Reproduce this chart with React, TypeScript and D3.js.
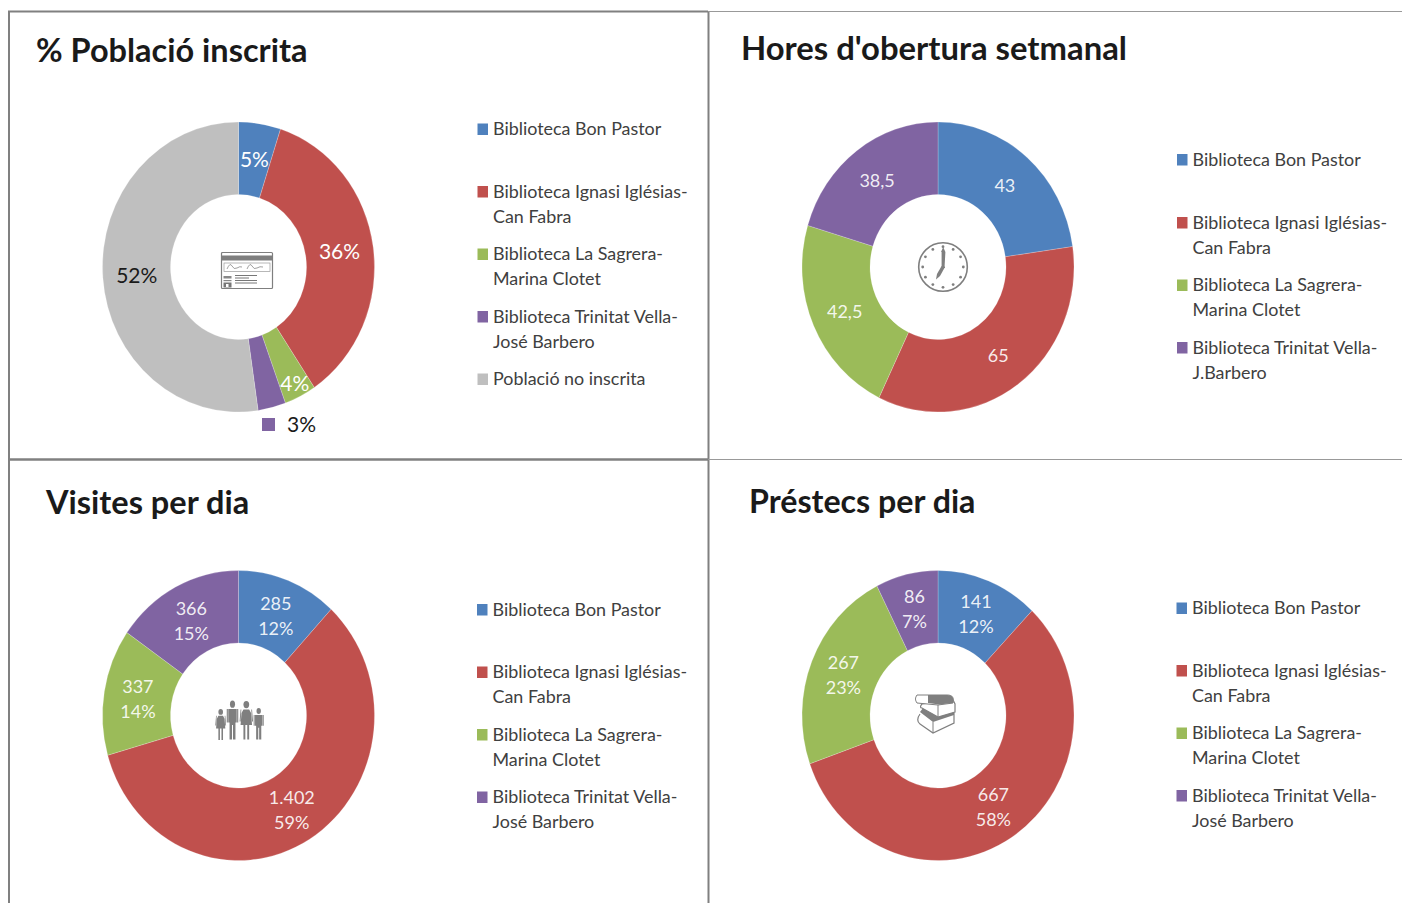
import React from "react";
import * as d3 from "d3";

const LBL_FONT = "Lato, Carlito, 'Noto Sans', sans-serif";
const BLUE = "#4f81bd", RED = "#c0504d", GREEN = "#9bbb59", PURPLE = "#8064a2", GREY = "#bfbfbf";

const titles = ["% Població inscrita", "Hores d'obertura setmanal", "Visites per dia", "Préstecs per dia"];
const inscritaValues = [5, 35.6, 3.8, 3.3, 52.3];
const horesValues = [43, 65, 42.5, 38.5];
const visitesValues = [285, 1402, 337, 366];
const prestecsValues = [141, 667, 267, 86];
const inscritaLabels = [["5%"], ["36%"], ["4%"], [], ["52%"]];
const horesLabels = [["43"], ["65"], ["42,5"], ["38,5"]];
const visitesLabels = [["285", "12%"], ["1.402", "59%"], ["337", "14%"], ["366", "15%"]];
const prestecsLabels = [["141", "12%"], ["667", "58%"], ["267", "23%"], ["86", "7%"]];
const legend1 = [["Biblioteca Bon Pastor"], ["Biblioteca Ignasi Iglésias-", "Can Fabra"], ["Biblioteca La Sagrera-", "Marina Clotet"], ["Biblioteca Trinitat Vella-", "José Barbero"], ["Població no inscrita"]];
const legend2 = [["Biblioteca Bon Pastor"], ["Biblioteca Ignasi Iglésias-", "Can Fabra"], ["Biblioteca La Sagrera-", "Marina Clotet"], ["Biblioteca Trinitat Vella-", "J.Barbero"]];
const legend3 = [["Biblioteca Bon Pastor"], ["Biblioteca Ignasi Iglésias-", "Can Fabra"], ["Biblioteca La Sagrera-", "Marina Clotet"], ["Biblioteca Trinitat Vella-", "José Barbero"]];
const colours5 = [BLUE, RED, GREEN, PURPLE, GREY];

const RX = 136, RY = 145, INNER = 68;
const labelDark = [false, false, false, false, true];

function Donut({ cx, cy, values, labels, shift = [], dyAll = 0 }: { cx: number; cy: number; values: number[]; labels: string[][]; shift?: number[][]; dyAll?: number }) {
  const pie = d3.pie<number>().sort(null)(values);
  const arc = d3.arc<d3.PieArcDatum<number>>().innerRadius(INNER).outerRadius(RX);
  const sy = RY / RX;
  return (
    <g transform={`translate(${cx},${cy})`}>
      <g transform={`scale(1,${sy})`}>
        {pie.map((p, i) => (
          <path key={i} d={arc(p) || ""} fill={colours5[i]} stroke="#fff" strokeOpacity={0.35} strokeWidth={0.6} />
        ))}
      </g>
      {pie.map((p, i) => {
        const [x, y] = arc.centroid(p);
        const ls = labels[i];
        const [ox, oy] = shift[i] || [0, 0];
        return ls.map((t, k) => (
          <text key={i + "-" + k} x={x + ox} y={y * sy + oy + dyAll + (k - (ls.length - 1) / 2) * 25} dy="0.35em" textAnchor="middle"
            fontFamily={LBL_FONT} fontSize={ls.length === 1 && ls[0].endsWith("%") ? 21 : 18}
            fill={labelDark[i] ? "#1a1a1a" : "#fff"} fillOpacity={labelDark[i] || ls[0].endsWith("%") ? 1 : 0.9}>{t}</text>
        ));
      })}
    </g>
  );
}

function Legend({ x, ys, items }: { x: number; ys: number[]; items: string[][] }) {
  return (
    <g fontFamily={LBL_FONT} fontSize={17.9} fill="#404040">
      {items.map((lines, i) => (
        <g key={i}>
          <rect x={x} y={ys[i] - 5.5} width={10.5} height={11.5} fill={colours5[i]} />
          {lines.map((t, k) => (
            <text key={k} x={x + 15.5} y={ys[i] + k * 25} dy="0.35em">{t}</text>
          ))}
        </g>
      ))}
    </g>
  );
}

const ICON = "#7f7f7f";
function CardIcon() {
  return (
    <g transform="translate(221,252)">
      <rect x={0.5} y={0.5} width={51} height={36} rx={1} fill="#fff" stroke={ICON} strokeWidth={1.2} />
      <rect x={0.5} y={3.5} width={51} height={5} fill={ICON} />
      <rect x={3} y={11} width={46} height={8.5} fill="#fff" stroke="#999" strokeWidth={0.7} />
      <path d="M6,17 q3,-7 5,-3 t5,2 t5,-1 M26,17 q3,-7 5,-3 t5,2 t6,-1" fill="none" stroke="#777" strokeWidth={0.7} />
      <path d="M14,23.5H36M14,26H28M14,28.5H36M14,31H36" stroke="#777" strokeWidth={1} />
      <rect x={2.5} y={24} width={8} height={2.5} fill="#888" />
      <rect x={2.5} y={28} width={8} height={1.2} fill="#888" />
      <rect x={2.5} y={30.5} width={8} height={5} fill="#777" />
      <rect x={5} y={32} width={2.5} height={3} fill="#fff" />
    </g>
  );
}
function ClockIcon() {
  const ticks = d3.range(12).map((i) => (i * Math.PI) / 6);
  return (
    <g transform="translate(943,267)">
      <circle r={24.3} fill="#fff" stroke={ICON} strokeWidth={1.6} />
      {ticks.map((a, i) => (
        <circle key={i} cx={20.3 * Math.sin(a)} cy={-20.3 * Math.cos(a)} r={1.4} fill={ICON} />
      ))}
      <path d="M0.2,-20 L2.4,-15 L1.6,-1 L2,1 L-1.4,1 L-1.4,-15 L-2,-15 Z" fill={ICON} />
      <path d="M2,0 L-3,9 L-7,12.5 L-6,7 L-1.4,-1 Z" fill={ICON} />
    </g>
  );
}
function Person({ x, y, h, w, skirt }: { x: number; y: number; h: number; w: number; skirt?: boolean }) {
  const s = h / 32, sx = w / 13.6;
  return (
    <g transform={`translate(${x},${y}) scale(${sx},${s})`} fill={ICON}>
      <circle cx={0} cy={3} r={3} />
      {skirt ? (
        <path d="M-3,7 H3 L5,10 L6,20 L3,20 V32 H1 V20 H-1 V32 H-3 V20 H-6 L-5,10 Z M5.2,7 L6,7 L7,17 L6,17 Z M-5.2,7 L-6,7 L-7,17 L-6,17 Z" />
      ) : (
        <path d="M-5,7 H5 V18 H3.5 V32 H0.6 V20 H-0.6 V32 H-3.5 V18 H-5 Z M5.5,7 L6.8,7 L6.8,18 L5.5,18 Z M-5.5,7 L-6.8,7 L-6.8,18 L-5.5,18 Z" />
      )}
    </g>
  );
}
function FamilyIcon() {
  return (
    <g>
      <Person x={220.7} y={709} h={31} w={10.5} skirt />
      <Person x={232.5} y={700.5} h={39} w={11.5} />
      <Person x={246.3} y={701} h={38.5} w={13} skirt />
      <Person x={258.7} y={708} h={31.5} w={10} />
    </g>
  );
}
function BooksIcon() {
  return (
    <g transform="translate(895,680)" fill="none" stroke={ICON}>
      <path d="M25,34 C22,38 22,42 25,44 L38,53 L59,43 V33" strokeWidth={1.2} fill="#fff" />
      <path d="M25,32 L38,42 L59,35 V31 L43,36 L28,28 Z" fill={ICON} stroke="none" />
      <path d="M38,42 V53" strokeWidth={1} />
      <path d="M27,24 C25,26 25,28 27,28 L43,37 L60,32 V24 L58,20 Z" fill="#fff" strokeWidth={1.2} />
      <path d="M43,25 V37" strokeWidth={1} />
      <path d="M22,15 H52 C58,15 59,18 58,23 L43,25 L22,23 C20,20 20,18 22,15 Z" fill="#fff" strokeWidth={1} />
      <path d="M33,15 H52 C58,15 59,18 58,23 L44,24.5 L33,23 Z" fill={ICON} stroke="none" />
    </g>
  );
}

export default function App() {
  const titleProps = { fontFamily: LBL_FONT, fontWeight: 700, fontSize: 32.5, fill: "#1a1a1a" };
  return (
    <svg width={1402} height={903} style={{ position: "absolute", left: 0, top: 0, background: "#fff" }}>
      <g stroke="#808080" fill="none">
        <path d="M9,903 V11.5 H708" strokeWidth={2} />
        <path d="M708.5,11 V903" strokeWidth={2} />
        <path d="M9,459.5 H708" strokeWidth={2.5} />
        <path d="M708,11.5 H1402 M708,459.5 H1402" strokeWidth={1} stroke="#999" />
      </g>

      <text x={36} y={62} {...titleProps}>{titles[0]}</text>
      <text x={741} y={60} {...titleProps} fontSize={32.8}>{titles[1]}</text>
      <text x={46} y={514} {...titleProps}>{titles[2]}</text>
      <text x={749} y={513} {...titleProps} fontSize={32.2}>{titles[3]}</text>

      <Donut cx={238.5} cy={267} values={inscritaValues} labels={inscritaLabels} shift={[[0, 0], [0, 0], [10, 20], [0, 0], [0, 1]]} />
      <Donut cx={938} cy={267} values={horesValues} labels={horesLabels} dyAll={1} />
      <Donut cx={238.5} cy={715.5} values={visitesValues} labels={visitesLabels} dyAll={2} />
      <Donut cx={938} cy={715.5} values={prestecsValues} labels={prestecsLabels} />

      <rect x={262} y={418} width={13} height={13} fill={PURPLE} />
      <text x={287} y={425} dy="0.35em" fontFamily={LBL_FONT} fontSize={21} fill="#1a1a1a">3%</text>

      <Legend x={477.5} ys={[129, 191.5, 254, 316.5, 379]} items={legend1} />
      <Legend x={1177} ys={[159.5, 222.5, 285, 347.5]} items={legend2} />
      <Legend x={477} ys={[609.5, 672, 734.5, 797]} items={legend3} />
      <Legend x={1176.5} ys={[608, 670.5, 733, 795.5]} items={legend3} />

      <CardIcon />
      <ClockIcon />
      <FamilyIcon />
      <BooksIcon />
    </svg>
  );
}
